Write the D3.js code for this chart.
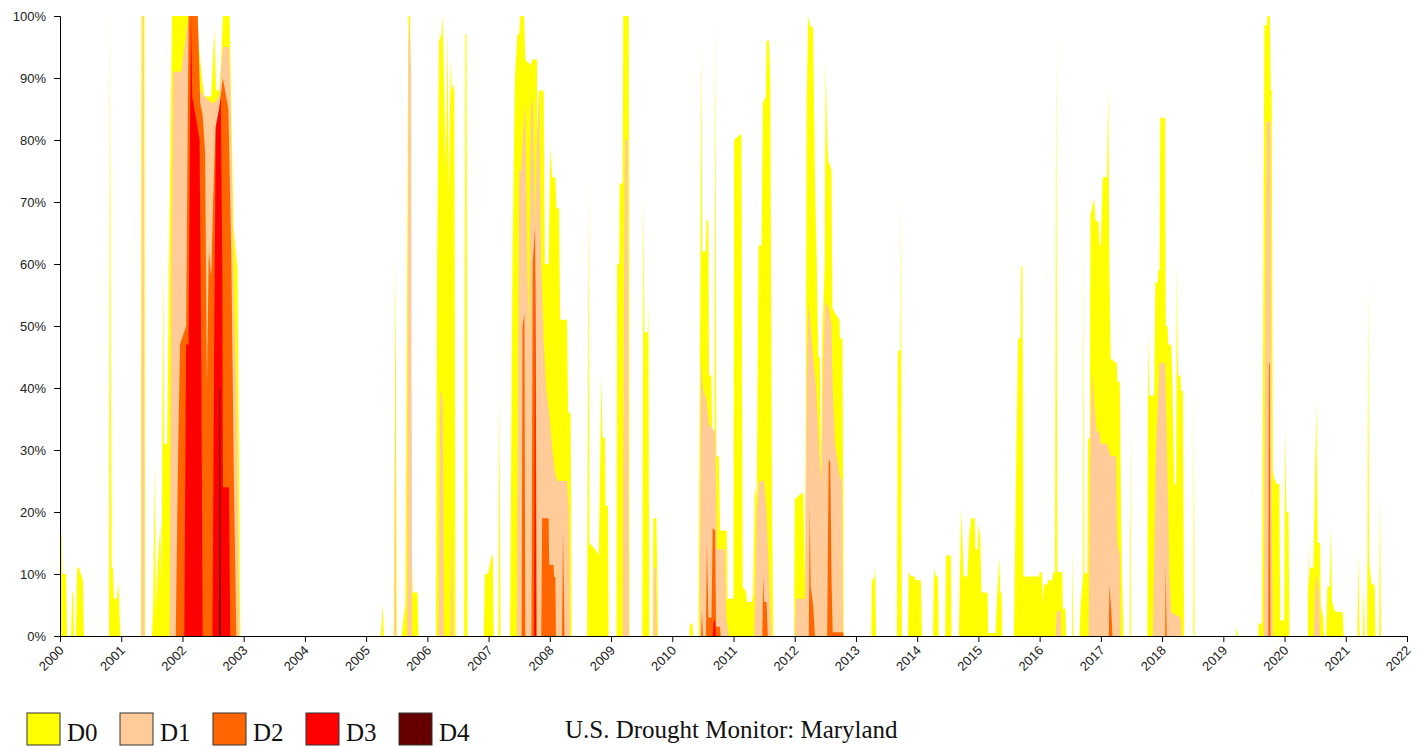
<!DOCTYPE html>
<html>
<head>
<meta charset="utf-8">
<script src="https://cdn.jsdelivr.net/npm/d3@7"></script>
<style>
  html, body { margin: 0; padding: 0; background: #fff; }
  svg { display: block; }
  .axis text { font-family: "Liberation Sans", Arial, sans-serif; font-size: 13px; fill: #222; }
  .axis path, .axis line { stroke: #000; }
</style>
</head>
<body>
<svg id="chart" width="1424" height="747"></svg>
<script>
// ---------------- DATA (decimal year, percent of area) ----------------
const categories = ["D0", "D1", "D2", "D3", "D4"];
const colors = ["#FFFF00", "#FFCC99", "#FF6600", "#FF0000", "#660000"];
const yearTicks = d3.range(2000, 2023);
const pctTicks = [0, 10, 20, 30, 40, 50, 60, 70, 80, 90, 100];
const title = "U.S. Drought Monitor: Maryland";

const d0 = [
  [2000.00,17],[2000.03,16],[2000.04,10],[2000.10,10],[2000.115,0],
  [2000.18,0],[2000.20,7],[2000.215,7],[2000.23,0],
  [2000.26,0],[2000.28,11],[2000.31,11],[2000.34,10],[2000.375,9],[2000.39,0],
  [2000.80,0],[2000.815,100],[2000.83,43],[2000.845,11],[2000.865,11],[2000.88,6],[2000.93,6],[2000.955,9],[2000.97,4],[2000.99,0],
  [2001.32,0],[2001.33,100],[2001.38,100],[2001.39,0],
  [2001.50,0],[2001.52,4],[2001.55,28],[2001.565,4],[2001.60,12],[2001.64,18],[2001.66,8],[2001.685,61],[2001.70,31],[2001.75,31],[2001.79,67],[2001.83,100],
  [2002.22,100],[2002.27,95],[2002.29,93],[2002.33,89],[2002.36,87],[2002.47,87],[2002.52,98],[2002.55,88],[2002.60,88],[2002.63,92],[2002.66,100],[2002.77,100],[2002.79,89],[2002.835,66],[2002.90,59],[2002.945,0],
  [2005.24,0],[2005.27,5],[2005.29,0],
  [2005.45,0],[2005.48,62],[2005.50,0],
  [2005.58,0],[2005.60,2],[2005.64,5],[2005.67,60],[2005.69,100],[2005.72,100],[2005.74,15],[2005.76,7],[2005.84,7],[2005.855,0],
  [2006.14,0],[2006.16,60],[2006.19,96],[2006.23,97],[2006.25,100],[2006.27,90],[2006.30,75],[2006.33,98],[2006.35,70],[2006.38,93],[2006.40,88],[2006.44,89],[2006.46,0],
  [2006.60,0],[2006.62,97],[2006.64,97],[2006.655,0],
  [2006.92,0],[2006.94,10],[2006.99,10],[2007.05,13],[2007.07,13],[2007.085,0],
  [2007.16,0],[2007.18,40],[2007.195,0],
  [2007.35,0],[2007.39,60],[2007.43,90],[2007.47,97],[2007.50,97],[2007.52,100],[2007.58,100],[2007.60,93],[2007.69,92],[2007.71,93],[2007.79,93],[2007.80,48],[2007.82,88],[2007.90,88],[2007.92,60],[2007.98,60],[2008.01,79],[2008.04,74],[2008.09,74],[2008.11,69],[2008.15,69],[2008.17,51],[2008.28,51],[2008.30,36],[2008.34,36],[2008.356,0],
  [2008.61,0],[2008.63,73],[2008.645,15],[2008.74,14],[2008.80,13],[2008.83,33],[2008.845,42],[2008.86,32],[2008.90,32],[2008.91,21],[2008.95,21],[2008.96,0],
  [2009.09,0],[2009.10,60],[2009.135,60],[2009.14,73],[2009.19,73],[2009.20,100],[2009.29,100],[2009.30,0],
  [2009.51,0],[2009.53,72],[2009.545,49],[2009.60,49],[2009.61,54],[2009.625,0],
  [2009.68,0],[2009.69,19],[2009.74,19],[2009.77,0],
  [2010.28,0],[2010.29,2],[2010.33,2],[2010.34,0],
  [2010.43,0],[2010.46,60],[2010.475,95],[2010.49,62],[2010.55,62],[2010.56,67],[2010.59,67],[2010.60,42],[2010.64,42],[2010.65,33],[2010.69,33],[2010.705,100],[2010.72,29],[2010.76,29],[2010.78,17],[2010.89,17],[2010.90,6],[2011.00,6],
  [2011.01,80],[2011.13,81],[2011.15,8],[2011.21,7],[2011.22,5.5],[2011.30,5.5],[2011.32,7],[2011.35,24],[2011.38,22],[2011.41,63],[2011.46,63],[2011.48,86],[2011.53,87],[2011.54,96],[2011.58,96],[2011.60,90],[2011.63,20],[2011.65,0],
  [2011.99,0],[2012.00,22],[2012.10,23],[2012.14,23],[2012.165,8],[2012.18,30],[2012.195,86],[2012.22,100],[2012.25,98.5],[2012.30,98],[2012.33,74],[2012.36,60],[2012.385,45],[2012.41,45],[2012.43,25],[2012.45,48],[2012.49,60],[2012.505,92.7],[2012.53,80],[2012.55,76.5],[2012.575,76],[2012.60,75],[2012.615,53],[2012.66,52],[2012.73,51],[2012.74,48],[2012.78,48],[2012.79,26],[2012.80,0],
  [2013.25,0],[2013.26,9],[2013.30,9.3],[2013.315,11],[2013.33,0],
  [2013.67,0],[2013.685,46],[2013.725,46],[2013.735,70.6],[2013.75,0],
  [2013.85,0],[2013.86,10.3],[2013.90,9.6],[2013.96,9.6],[2013.97,9],[2014.06,9],[2014.08,0],
  [2014.26,0],[2014.275,11],[2014.30,9.6],[2014.34,9.6],[2014.35,0],
  [2014.46,0],[2014.47,13],[2014.55,13],[2014.56,0],
  [2014.68,0],[2014.72,20.6],[2014.74,15],[2014.76,9.6],[2014.82,9.6],[2014.85,16],[2014.88,19],[2014.94,19],[2014.95,14],[2014.99,14],[2015.00,18],[2015.03,16],[2015.05,7],[2015.15,7],[2015.16,0.5],[2015.28,0.5],[2015.30,5],[2015.34,13],[2015.355,7],[2015.38,7],[2015.39,0],
  [2015.58,0],[2015.62,30],[2015.65,48],[2015.69,48],[2015.70,59.6],[2015.72,59.6],[2015.735,9.6],[2015.99,9.6],[2016.00,10.3],[2016.04,10.3],[2016.05,5],[2016.07,8.3],[2016.13,8.3],[2016.14,9],[2016.21,9],[2016.22,10.3],[2016.25,10.3],[2016.27,96],[2016.29,10.3],[2016.37,10.3],[2016.38,4.4],[2016.42,4.4],[2016.435,0],
  [2016.53,0],[2016.54,15],[2016.55,0],
  [2016.65,0],[2016.67,5],[2016.71,10],[2016.72,65],[2016.73,10],[2016.78,10.3],[2016.79,31.7],[2016.82,32],[2016.83,68],[2016.89,70.6],[2016.91,67],[2016.96,66.8],[2016.98,63],[2017.00,63],[2017.03,74],[2017.10,74],[2017.12,88.5],[2017.14,60],[2017.16,44.7],[2017.26,44],[2017.27,41],[2017.31,41],[2017.33,20],[2017.35,7.7],[2017.37,0],
  [2017.47,0],[2017.48,36],[2017.49,0],
  [2017.76,0],[2017.77,49],[2017.79,38.8],[2017.87,38.8],[2017.89,57],[2017.93,57],[2017.94,59],[2017.96,59],[2017.97,83.6],[2018.05,83.6],[2018.06,50],[2018.09,50],[2018.10,47],[2018.15,47],[2018.17,40],[2018.20,24.5],[2018.23,24.5],[2018.24,60],[2018.26,42],[2018.30,42],[2018.31,39.5],[2018.34,39.5],[2018.36,0],
  [2018.51,0],[2018.52,40],[2018.53,0],
  [2019.21,0],[2019.225,1.5],[2019.24,0],
  [2019.57,0],[2019.58,2],[2019.63,2],[2019.66,70],[2019.67,98.5],[2019.71,98.5],[2019.72,100],[2019.76,100],[2019.775,88],[2019.79,88],[2019.81,26.5],[2019.83,25.5],[2019.875,24.5],[2019.915,24.5],[2019.93,2.5],[2019.995,2.5],[2020.01,33.6],[2020.03,20],[2020.065,20],[2020.08,0],
  [2020.38,0],[2020.39,16],[2020.40,8],[2020.42,11],[2020.47,11],[2020.50,26.5],[2020.52,37.9],[2020.54,15],[2020.58,15],[2020.59,5],[2020.63,3],[2020.645,0],
  [2020.68,0],[2020.70,8],[2020.74,8],[2020.755,18],[2020.775,5.7],[2020.82,4],[2020.95,3.8],[2020.965,0],
  [2021.19,0],[2021.205,13.5],[2021.225,0],
  [2021.28,0],[2021.295,8.3],[2021.31,0],
  [2021.35,0],[2021.365,58],[2021.38,12],[2021.42,8.3],[2021.47,8.3],[2021.485,0],
  [2021.545,0],[2021.56,23],[2021.575,0]
];

const d1 = [
  [2001.33,0],[2001.345,100],[2001.365,100],[2001.38,0],
  [2001.79,0],[2001.82,60],[2001.85,91],[2001.98,91],[2002.10,100],[2002.25,100],[2002.29,88],[2002.36,87],[2002.47,86],[2002.52,86],[2002.60,87],[2002.66,95],[2002.76,95],[2002.79,85],[2002.83,60],[2002.88,40],[2002.93,0],
  [2005.46,0],[2005.48,50],[2005.49,0],
  [2005.67,0],[2005.69,95],[2005.71,100],[2005.735,90],[2005.75,0],
  [2006.18,0],[2006.21,40],[2006.25,38],[2006.27,0],
  [2006.38,0],[2006.40,20],[2006.42,0],
  [2007.46,0],[2007.50,75],[2007.53,75],[2007.57,82],[2007.60,86],[2007.63,60],[2007.66,48],[2007.69,85],[2007.72,87],[2007.76,65],[2007.79,80],[2007.82,88],[2007.86,60],[2007.90,48],[2007.94,40],[2007.99,36],[2008.04,30],[2008.09,26],[2008.13,25],[2008.28,25],[2008.31,20],[2008.33,0],
  [2009.19,0],[2009.21,52],[2009.23,80],[2009.27,80],[2009.29,0],
  [2009.69,0],[2009.70,11],[2009.73,11],[2009.75,0],
  [2010.45,0],[2010.47,45],[2010.50,40],[2010.56,38],[2010.60,34],[2010.70,33],[2010.73,14],[2010.86,14],[2010.88,3],[2010.93,0],
  [2011.34,0],[2011.38,20],[2011.42,25],[2011.50,25],[2011.54,20],[2011.60,5],[2011.62,0],
  [2012.00,0],[2012.02,6],[2012.17,6],[2012.195,40],[2012.22,54],[2012.25,51],[2012.30,45],[2012.35,40],[2012.40,30],[2012.43,25],[2012.47,45],[2012.50,54],[2012.55,53],[2012.60,50],[2012.62,40],[2012.66,31],[2012.73,26],[2012.77,25],[2012.79,0],
  [2016.26,0],[2016.28,4],[2016.34,4],[2016.35,0],
  [2016.80,0],[2016.83,33],[2016.86,42.7],[2016.89,38],[2016.93,33],[2016.97,33],[2017.00,31],[2017.10,31],[2017.16,29],[2017.25,29],[2017.27,15],[2017.31,13],[2017.32,0],
  [2017.85,0],[2017.90,30],[2017.96,44],[2018.05,44],[2018.08,30],[2018.12,10],[2018.15,3.8],[2018.30,3],[2018.32,0],
  [2019.66,0],[2019.69,60],[2019.71,83],[2019.77,83],[2019.79,20],[2019.81,0],
  [2020.48,0],[2020.50,7],[2020.525,10],[2020.56,7],[2020.58,0]
];

const d2 = [
  [2001.89,0],[2001.93,30],[2001.96,47],[2002.06,50],[2002.10,100],[2002.25,100],[2002.29,86],[2002.33,84],[2002.37,78],[2002.40,40],[2002.43,62],[2002.47,58],[2002.50,70],[2002.54,82],[2002.60,85],[2002.66,90],[2002.75,85],[2002.80,60],[2002.84,25],[2002.88,0],
  [2007.54,0],[2007.555,50],[2007.585,52],[2007.60,0],
  [2007.70,0],[2007.72,60],[2007.76,66],[2007.79,0],
  [2007.86,0],[2007.875,19],[2007.98,19],[2007.99,11.5],[2008.06,11.5],[2008.07,9.5],[2008.09,9.5],[2008.10,0],
  [2008.20,0],[2008.215,17],[2008.24,0],
  [2010.47,0],[2010.485,4],[2010.50,0],
  [2010.55,0],[2010.565,15],[2010.59,3],[2010.64,3],[2010.66,17.4],[2010.70,17],[2010.715,1.5],[2010.78,1.5],[2010.79,0],
  [2011.47,0],[2011.485,9.6],[2011.50,5.5],[2011.54,5.5],[2011.56,0],
  [2012.23,0],[2012.245,21],[2012.26,8],[2012.30,5],[2012.33,0],
  [2012.53,0],[2012.555,28.6],[2012.58,28],[2012.60,10],[2012.62,0.6],[2012.79,0.6],[2012.80,0],
  [2017.13,0],[2017.14,8.3],[2017.17,4],[2017.19,0],
  [2018.05,0],[2018.06,11.5],[2018.075,0],
  [2019.735,0],[2019.745,44],[2019.76,44],[2019.77,0]
];

const d3v = [
  [2002.03,0],[2002.06,47],[2002.10,47],[2002.13,90],[2002.14,100],[2002.16,87],[2002.28,80],[2002.31,40],[2002.33,0],
  [2002.49,0],[2002.52,50],[2002.545,82],[2002.60,85],[2002.625,87],[2002.65,60],[2002.66,24],[2002.76,24],[2002.78,0],
  [2007.745,0],[2007.76,61],[2007.775,0],
  [2010.66,0],[2010.68,2.5],[2010.70,2.5],[2010.71,0]
];

const d4 = [
  [2002.595,0],[2002.605,40],[2002.615,40],[2002.625,0]
];

const series = [d0, d1, d2, d3v, d4];

// ---------------- CHART ----------------
const svg = d3.select("#chart");
const margin = { left: 60, right: 17, top: 16, bottom: 111 };
const W = 1424, H = 747;

const x = d3.scaleLinear().domain([2000, 2022]).range([margin.left, W - margin.right]);
const y = d3.scaleLinear().domain([0, 100]).range([H - margin.bottom, margin.top]);

const area = d3.area()
  .x(d => x(d[0]))
  .y0(y(0))
  .y1(d => y(d[1]))
  .curve(d3.curveLinear);

const g = svg.append("g");
series.forEach((s, i) => {
  g.append("path")
    .datum(s)
    .attr("fill", colors[i])
    .attr("stroke", "none")
    .attr("d", area);
});

// axes
svg.append("g")
  .attr("class", "axis")
  .attr("transform", `translate(${margin.left},0)`)
  .call(d3.axisLeft(y).tickValues(pctTicks).tickFormat(d => d + "%").tickSize(6).tickPadding(8));

const xAxis = svg.append("g")
  .attr("class", "axis")
  .attr("transform", `translate(0,${y(0)})`)
  .call(d3.axisBottom(x).tickValues(yearTicks).tickFormat(d3.format("d")).tickSize(6));

xAxis.selectAll("text")
  .attr("x", 0).attr("y", 0).attr("dy", "0.35em")
  .attr("transform", "translate(1,12) rotate(-45)")
  .style("text-anchor", "end");

// legend
const legend = svg.append("g");
categories.forEach((c, i) => {
  const lx = 27 + i * 93;
  legend.append("rect")
    .attr("x", lx).attr("y", 713).attr("width", 33).attr("height", 32)
    .attr("fill", colors[i]).attr("stroke", "#333").attr("stroke-width", 1);
  legend.append("text")
    .attr("x", lx + 40).attr("y", 741)
    .attr("font-family", "'Liberation Serif', 'Times New Roman', serif")
    .attr("font-size", 25)
    .attr("fill", "#111")
    .text(c);
});

svg.append("text")
  .attr("x", 565).attr("y", 738)
  .attr("font-family", "'Liberation Serif', 'Times New Roman', serif")
  .attr("font-size", 25)
  .attr("fill", "#111")
  .text(title);
</script>
</body>
</html>
